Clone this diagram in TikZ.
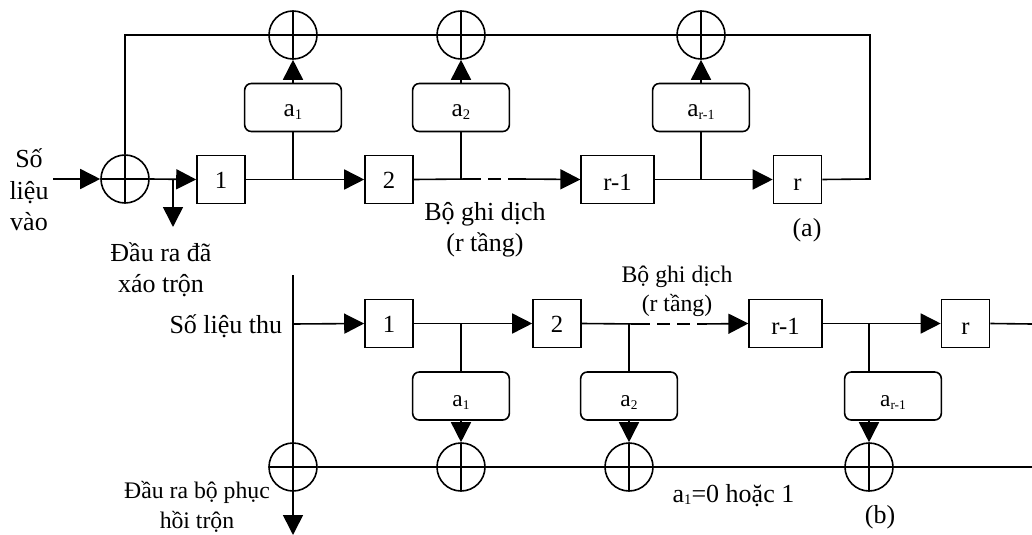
\documentclass[tikz,border=0pt]{standalone}
\usepackage{fontspec}
\setmainfont{Liberation Serif}
\usetikzlibrary{arrows.meta,calc}
\newcommand{\pxfont}[2]{\fontsize{#1}{#2}\selectfont}
\newcommand{\asub}[2][11pt]{a\raisebox{-2pt}{\fontsize{#1}{#1}\selectfont #2}}
\tikzset{
  wire/.style={line width=1.2pt},
  arr/.style={wire,-{Triangle[length=15pt,width=15pt,inset=0pt]}},
  dashwire/.style={wire,dash pattern=on 10pt off 5pt},
  regbox/.style={draw,rectangle,inner sep=0pt,minimum height=36pt,text height=13.5pt,text depth=0pt,font=\pxfont{18.5pt}{20pt}},
  lowtext/.style={text height=17pt},
  coefbox/.style={draw,rectangle,rounded corners=5pt,inner sep=0pt,minimum width=72.5pt,minimum height=36pt,text height=14pt,text depth=0pt,font=\pxfont{19pt}{20pt}},
  coefsm/.style={coefbox,text height=16pt,font=\pxfont{17.5pt}{20pt}},
  xorc/.style={draw,circle,inner sep=0pt,minimum size=36pt,
    path picture={\draw (path picture bounding box.north)--(path picture bounding box.south)
      (path picture bounding box.west)--(path picture bounding box.east);}},
  lbl/.style={inner sep=0pt,align=center,font=\pxfont{19.5pt}{23.5pt}},
  lblsm/.style={inner sep=0pt,align=center,font=\pxfont{17.8pt}{22pt}}
}
\begin{document}
\begin{tikzpicture}[x=0.75pt,y=-0.75pt,wire]
\useasboundingbox (0,0) rectangle (1032,535);
% top register
\node[xorc] (x0) at (125,179) {};
\node[xorc] (xa) at (293,35) {};
\node[xorc] (xb) at (461,35) {};
\node[xorc] (xc) at (701,35) {};
\node[regbox,minimum width=36pt] (t1) at (221,179.5) {1};
\node[regbox,minimum width=36pt] (t2) at (389,179.5) {2};
\node[regbox,lowtext,minimum width=54.5pt] (t3) at (617.5,179.5) {r-1};
\node[regbox,lowtext,minimum width=36pt] (t4) at (797.5,179.5) {r};
\node[coefbox] (ca) at (293,107.5) {\asub{1}};
\node[coefbox] (cb) at (461,107.5) {\asub{2}};
\node[coefbox] (cc) at (701,107.5) {\asub[10.5pt]{r-1}};
\coordinate (in) at (53,179);
\coordinate (ja) at (293,179);
\coordinate (jb) at (461,179);
\coordinate (jc) at (701,179);
\coordinate (da) at (468,179);
\coordinate (db) at (520,179);
\coordinate (cr1) at (870,179);
\coordinate (cr2) at (870,35);
\coordinate (cl) at (125,35);
\coordinate (jo) at (173,179);
\coordinate (oo) at (173,227);
\draw[arr] (in) -- (x0.west);
\draw[arr] (x0.east) -- (t1.west);
\draw[arr] (jo) -- (oo);
\draw[arr] (t1.east) -- (t2.west);
\draw (t2.east) -- (da);
\draw[dashwire] (da) -- (db);
\draw[arr] (db) -- (t3.west);
\draw[arr] (t3.east) -- (t4.west);
\draw (t4.east) -- (cr1) -- (cr2) -- (cl) -- (x0.north);
\draw (ja) -- (ca.south);
\draw (jb) -- (cb.south);
\draw (jc) -- (cc.south);
\draw[arr] (ca.north) -- (xa.south);
\draw[arr] (cb.north) -- (xb.south);
\draw[arr] (cc.north) -- (xc.south);
% bottom register
\node[xorc] (y0) at (293,467) {};
\node[xorc] (ya) at (461,467) {};
\node[xorc] (yb) at (629,467) {};
\node[xorc] (yc) at (869,467) {};
\node[regbox,minimum width=36pt] (b1) at (389,323.5) {1};
\node[regbox,minimum width=36pt] (b2) at (557,323.5) {2};
\node[regbox,lowtext,minimum width=54.5pt] (b3) at (785.5,323.5) {r-1};
\node[regbox,lowtext,minimum width=36pt] (b4) at (965.5,323.5) {r};
\node[coefsm] (da1) at (461,396) {\asub[10pt]{1}};
\node[coefsm] (da2) at (629,396) {\asub[10pt]{2}};
\node[coefsm] (da3) at (893,396) {\asub[10pt]{r-1}};
\coordinate (vt) at (293,275);
\coordinate (vs) at (293,324);
\coordinate (vb) at (293,535);
\coordinate (ka) at (461,324);
\coordinate (kb) at (629,324);
\coordinate (kc) at (869,324);
\coordinate (ea) at (637,324);
\coordinate (eb) at (702,324);
\coordinate (oe) at (1032,324);
\coordinate (le) at (1032,467);
\draw[arr] (vt) -- (vb);
\draw[arr] (vs) -- (b1.west);
\draw[arr] (b1.east) -- (b2.west);
\draw (b2.east) -- (ea);
\draw[dashwire] (ea) -- (eb);
\draw[arr] (eb) -- (b3.west);
\draw[arr] (b3.east) -- (b4.west);
\draw (b4.east) -- (oe);
\draw (y0.east) -- (le);
\draw (ka) -- (da1.north);
\draw (kb) -- (da2.north);
\draw (kc) -- (kc |- da3.north);
\draw[arr] (da1.south) -- (ya.north);
\draw[arr] (da2.south) -- (yb.north);
\draw[arr] (kc |- da3.south) -- (yc.north);
% labels
\node[lbl] (l1) at (29,190) {Số\\liệu\\vào};
\node[lbl] (l2) at (161,270) {Đầu ra đã\\xáo trộn};
\node[lbl] (l3) at (485,229.5) {Bộ ghi dịch\\(r tầng)};
\node[lbl] (l4) at (807,230) {(a)};
\node[lbl,anchor=base east] (l5) at (283,333) {Số liệu thu};
\node[lblsm] (l6) at (197,507) {Đầu ra bộ phục\\hồi trộn};
\node[lblsm] (l7) at (677,291) {Bộ ghi dịch\\(r tầng)};
\node[lbl,anchor=base] (l8) at (733.5,502) {\asub[11pt]{1}=0 hoặc 1};
\node[lbl,anchor=base] (l9) at (880,523) {(b)};
\end{tikzpicture}
\end{document}
